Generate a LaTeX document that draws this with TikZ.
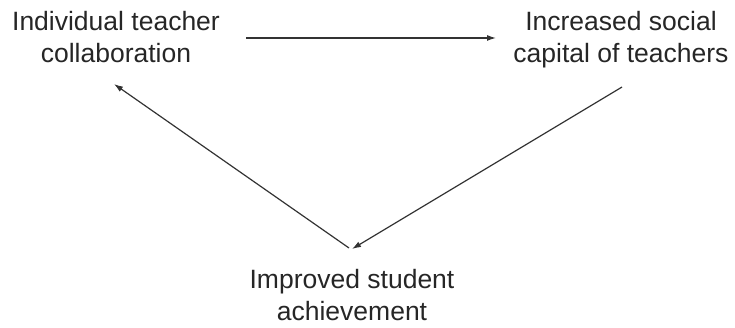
\documentclass[tikz,border=0pt]{standalone}
\usepackage{fontspec}
\setmainfont{Liberation Sans}
\usetikzlibrary{arrows.meta}
\begin{document}
\begin{tikzpicture}[x=1pt,y=-1pt,
  lbl/.style={align=center,font=\fontsize{26.5}{32}\selectfont,text=black!85,inner sep=0pt},
  conn/.style={draw=black!80,line width=1.2pt,-{Latex[length=9pt,width=6pt]}}]
\useasboundingbox (0,0) rectangle (735,328);
\node[lbl,anchor=base] (a) at (116,63) {Individual teacher\\collaboration};
\node[lbl,anchor=base] (b) at (621,63) {Increased social\\capital of teachers};
\node[lbl,anchor=base] (c) at (352,320) {Improved student\\achievement};
\coordinate (a1) at (246,38);
\coordinate (b1) at (496,38);
\coordinate (b2) at (622,87);
\coordinate (c1) at (352,249);
\coordinate (c2) at (349,248);
\coordinate (a2) at (114,84);
\draw[conn] (a1) -- (b1);
\draw[conn] (b2) -- (c1);
\draw[conn] (c2) -- (a2);
\end{tikzpicture}
\end{document}
